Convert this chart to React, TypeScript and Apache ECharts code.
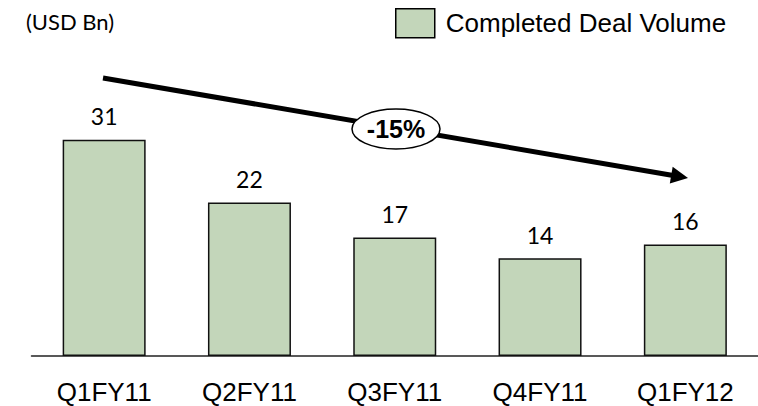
import React, { useEffect, useRef } from "react";
import * as echarts from "echarts";

const categories = ["Q1FY11", "Q2FY11", "Q3FY11", "Q4FY11", "Q1FY12"];
const dealVolume = [31, 22, 17, 14, 16];
const seriesName = "Completed Deal Volume";
const unitLabel = "(USD Bn)";
const changeLabel = "-15%";

export default function App() {
  const ref = useRef<HTMLDivElement>(null);
  useEffect(() => {
    document.body.style.margin = "0";
    const chart = echarts.init(ref.current!, null, { renderer: "svg" });
    // arrow geometry (annotation)
    const x1 = 103, y1 = 78, tx = 688, ty = 178;
    const dx = tx - x1, dy = ty - y1;
    const len = Math.sqrt(dx * dx + dy * dy);
    const ux = dx / len, uy = dy / len;
    const headLen = 17, headHalf = 8.5;
    const bx = tx - ux * headLen, by = ty - uy * headLen;
    const px = -uy * headHalf, py = ux * headHalf;
    chart.setOption({
      animation: false,
      title: {
        text: unitLabel,
        left: 21,
        top: 5,
        textStyle: { fontFamily: "Lato", fontSize: 22, fontWeight: "normal", color: "#000" },
      },
      legend: {
        data: [seriesName],
        left: 395,
        top: 8,
        padding: 0,
        icon: "rect",
        itemWidth: 39,
        itemHeight: 29,
        itemStyle: { borderColor: "#000", borderWidth: 1.5 },
        textStyle: { fontFamily: "Liberation Sans, Arial", fontSize: 26, color: "#000", padding: [2, 0, 0, 6] },
      },
      grid: { left: 31.5, width: 730, top: 77, bottom: 50 },
      xAxis: {
        type: "category",
        data: categories,
        axisLine: { lineStyle: { color: "#222", width: 1.5 } },
        axisTick: { show: false },
        axisLabel: { fontFamily: "Liberation Sans, Arial", fontSize: 26, color: "#000", margin: 23 },
      },
      yAxis: { type: "value", min: 0, max: 40, show: false, splitLine: { show: false } },
      series: [
        {
          name: seriesName,
          type: "bar",
          data: dealVolume,
          barWidth: 83,
          itemStyle: { color: "#C3D6BA", borderColor: "#111", borderWidth: 1.5 },
          label: {
            show: true,
            position: "top",
            distance: 12,
            fontFamily: "Lato",
            fontSize: 23,
            color: "#000",
          },
        },
      ],
      graphic: [
        {
          type: "line",
          shape: { x1, y1, x2: bx + ux * 2, y2: by + uy * 2 },
          style: { stroke: "#000", lineWidth: 5 },
          z: 100,
        },
        {
          type: "polygon",
          shape: { points: [[tx, ty], [bx + px, by + py], [bx - px, by - py]] },
          style: { fill: "#000" },
          z: 100,
        },
        {
          type: "ellipse",
          shape: { cx: 396, cy: 129, rx: 44, ry: 20 },
          style: { fill: "#fff", stroke: "#000", lineWidth: 1.5 },
          z: 101,
        },
        {
          type: "text",
          x: 396,
          y: 129,
          style: {
            text: changeLabel,
            fontFamily: "Liberation Sans, Arial",
            fontSize: 25,
            fontWeight: "bold",
            fill: "#000",
            align: "center",
            verticalAlign: "middle",
          },
          z: 102,
        },
      ],
    });
    return () => chart.dispose();
  }, []);
  return <div ref={ref} style={{ width: 758, height: 406 }} />;
}
